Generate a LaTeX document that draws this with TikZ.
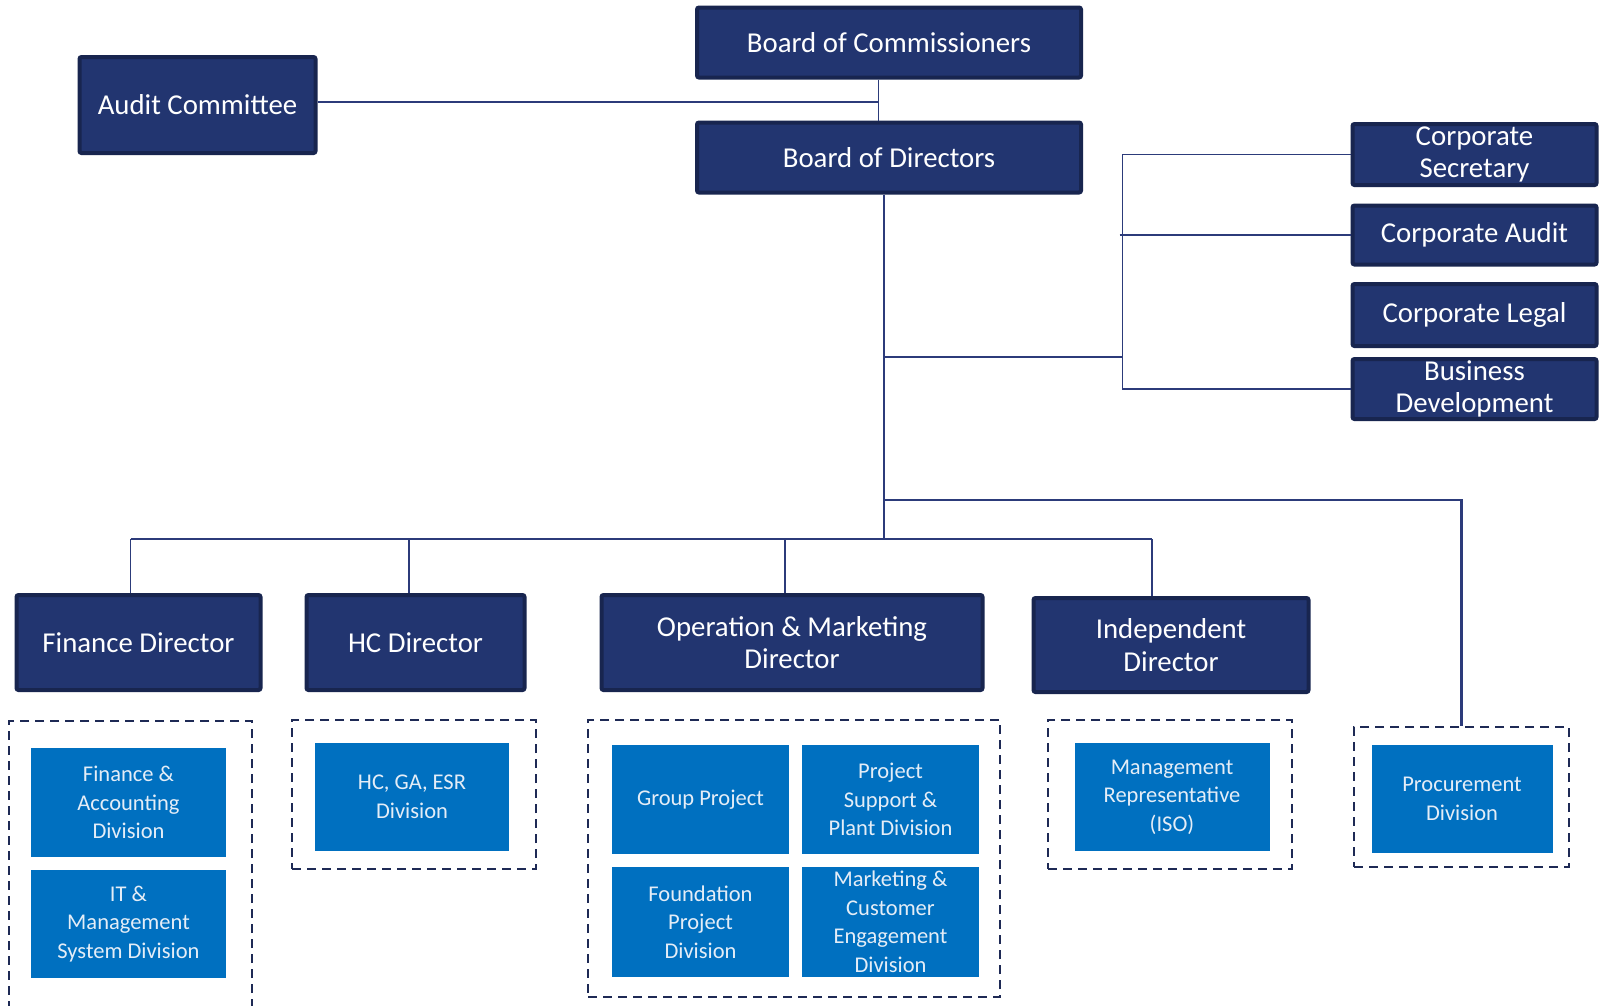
\documentclass[tikz,border=0pt]{standalone}
\usepackage{fontspec}
\setmainfont{Carlito}
\usepackage{xcolor}
\usepackage{tikz}
\usetikzlibrary{positioning}

\definecolor{navyfill}{HTML}{223570}
\definecolor{navyedge}{HTML}{18254F}
\definecolor{officeblue}{HTML}{0070C0}
\definecolor{linkcol}{HTML}{2C3B7A}
\definecolor{dashcol}{HTML}{1E2A55}
\definecolor{paletext}{HTML}{E4EDF7}

\begin{document}
\begin{tikzpicture}[x=1pt, y=-1pt,
    darkbox/.style={draw=navyedge, line width=4pt, fill=navyfill, rounded corners=2pt, text=white,
        align=center, inner sep=0pt, font=\fontsize{28.8}{32.5}\selectfont},
    bluebox/.style={fill=officeblue, text=paletext, align=center, inner sep=0pt,
        font=\fontsize{22.5}{28.5}\selectfont},
    groupbox/.style={draw=dashcol, line width=2.7pt, dash pattern=on 9pt off 6pt, inner sep=0pt},
    link/.style={draw=linkcol, line width=1.8pt}]
    \fill[white] (0,0) rectangle (1600,1005);
    \useasboundingbox (0,0) rectangle (1600,1005);

    % top of the chart
    \node[darkbox, minimum width=384, minimum height=70] (boc) at (889,42.5) {Board of Commissioners};
    \node[darkbox, minimum width=384, minimum height=70] (bod) at (889,157.5) {Board of Directors};
    \node[darkbox, minimum width=236, minimum height=96] (ac) at (197.5,105) {Audit Committee};

    % units under the board of directors
    \node[darkbox, minimum width=244, minimum height=61] (cs) at (1474.5,154.5) {Corporate\\Secretary};
    \node[darkbox, minimum width=244, minimum height=59] (ca) at (1474.5,235) {Corporate Audit};
    \node[darkbox, minimum width=244, minimum height=62] (cl) at (1474.5,315) {Corporate Legal};
    \node[darkbox, minimum width=244, minimum height=60] (bd) at (1474.5,389) {Business\\Development};

    % directors
    \node[darkbox, minimum width=244, minimum height=95] (fd) at (138.5,642.5) {Finance Director};
    \node[darkbox, minimum width=218, minimum height=95] (hd) at (415.5,642.5) {HC Director};
    \node[darkbox, minimum width=381, minimum height=95] (od) at (792,642.5) {Operation \& Marketing\\Director};
    \node[darkbox, minimum width=275, minimum height=94] (id) at (1171,645) {Independent\\Director};

    % dashed groups
    \node[groupbox, minimum width=243, minimum height=299] (fg) at (130.5,870.5) {};
    \node[groupbox, minimum width=244, minimum height=149] (hg) at (414,794.5) {};
    \node[groupbox, minimum width=412, minimum height=277] (og) at (794,858.5) {};
    \node[groupbox, minimum width=244, minimum height=149] (ig) at (1170,794.5) {};
    \node[groupbox, minimum width=215, minimum height=140] (pg) at (1461.5,797) {};

    % divisions
    \node[bluebox, minimum width=195, minimum height=109] (fa) at (128.5,802.5) {Finance \&\\Accounting\\Division};
    \node[bluebox, minimum width=195, minimum height=108] (it) at (128.5,924) {IT \&\\Management\\System Division};
    \node[bluebox, minimum width=194, minimum height=108] (hc) at (412,797) {HC, GA, ESR\\Division};
    \node[bluebox, minimum width=177, minimum height=109] (gp) at (700.5,799.5) {Group Project};
    \node[bluebox, minimum width=177, minimum height=109] (ps) at (890.5,799.5) {Project\\Support \&\\Plant Division};
    \node[bluebox, minimum width=177, minimum height=110] (fp) at (700.5,922) {Foundation\\Project\\Division};
    \node[bluebox, minimum width=177, minimum height=110] (mc) at (890.5,922) {Marketing \&\\Customer\\Engagement\\Division};
    \node[bluebox, minimum width=195, minimum height=108] (mr) at (1172,797) {Management\\Representative\\(ISO)};
    \node[bluebox, minimum width=181, minimum height=108] (pd) at (1462,799) {Procurement\\Division};

    % junctions
    \coordinate (jc) at (878.5,102);
    \coordinate (tr) at (884,357);
    \coordinate (rb) at (1122.5,357);
    \coordinate (pj) at (884,500);
    \coordinate (tb) at (884,539);
    \coordinate (b1) at (130.5,539);
    \coordinate (b2) at (409,539);
    \coordinate (b3) at (785,539);
    \coordinate (b4) at (1152,539);

    % connectors
    \draw[link] (boc.south -| jc) -- (bod.north -| jc);
    \draw[link] (ac.east |- jc) -- (jc);
    \draw[link] (bod.south -| tr) -- (tb);
    \draw[link] (tr) -- (rb);
    \draw[link] (cs.west) -| (rb |- bd.west) -- (bd.west);
    \draw[link] ([xshift=-3pt]rb |- ca.west) -- (ca.west);
    \draw[link, line width=2.2pt] (pj) -| (pg.north);
    \draw[link] (b1) -- (b4);
    \draw[link] (b1) -- (b1 |- fd.north);
    \draw[link] (b2) -- (b2 |- hd.north);
    \draw[link] (b3) -- (b3 |- od.north);
    \draw[link] (b4) -- (b4 |- id.north);
\end{tikzpicture}
\end{document}
